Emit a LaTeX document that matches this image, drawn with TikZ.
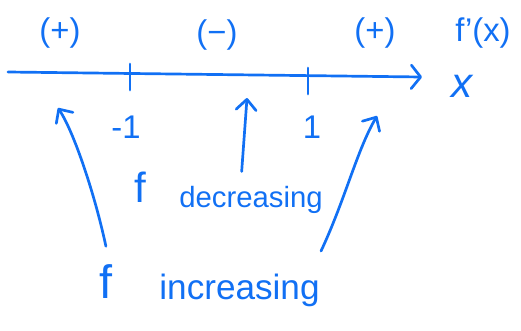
\documentclass[tikz,border=0pt]{standalone}
\usepackage{fontspec}
\setmainfont{Liberation Sans}
\usetikzlibrary{arrows.meta}
\definecolor{ink}{HTML}{1170F4}

\begin{document}
\begin{tikzpicture}[
  x=0.03cm, y=-0.03cm,
  pen/.style={ink, line width=2.3pt, line cap=round, line join=round},
  arr/.style={pen, -{Straight Barb[length=9pt, width=17pt, line width=2.3pt, round]}},
  hand/.style={text=ink, inner sep=1pt, font=\fontsize{28}{30}\selectfont},
  bighand/.style={hand, font=\fontsize{40}{42}\selectfont},
]
\useasboundingbox (0,0) rectangle (521,331);

% ===== Number line =====
\coordinate (axL) at (8,72);
\coordinate (axR) at (422,77);
\draw[pen, -{Straight Barb[length=8pt, width=20pt, line width=2.3pt, round]}] (axL) -- (axR);
\draw[pen] (130,64) -- (130,90);
\draw[pen] (308,68) -- (308,94);

% Sign of f'
\node[hand] (sgnL) at (60,33) {(+)};
\node[hand] (sgnM) at (217,35) {(−)};
\node[hand] (sgnR) at (375,33) {(+)};
\node[hand] (fprime) at (483,33) {f’(x)};
\node[hand, font=\fontsize{36}{38}\selectfont\itshape] (xlab) at (462,86) {x};

% Critical points
\node[hand] (mOne) at (126,127) {-1};
\node[hand] (pOne) at (312,127) {1};

% ===== Labels below =====
\node[bighand, anchor=base west, font=\fontsize{36}{38}\selectfont] (decF) at (133,202) {f};
\node[hand, anchor=base west, font=\fontsize{25}{27}\selectfont] (decW) at (178,207) {decreasing};
\node[bighand, anchor=base west] (incF) at (98,298) {f};
\node[hand, anchor=base west, font=\fontsize{30}{32}\selectfont] (incW) at (158,299) {increasing};

% Arrow tips
\coordinate (tipL) at (58,108);
\coordinate (tipM) at (247,98);
\coordinate (tipR) at (377,116);

% Arrows
\draw[arr] ([yshift=14pt]incF.north) .. controls (95,195) and (74,132) .. (tipL);
\draw[arr] ([shift={(-8pt,11pt)}]decW.north) -- (tipM);
\draw[arr] ([yshift=18pt]incW.north east) .. controls (345,200) and (357,150) .. (tipR);

\end{tikzpicture}
\end{document}
